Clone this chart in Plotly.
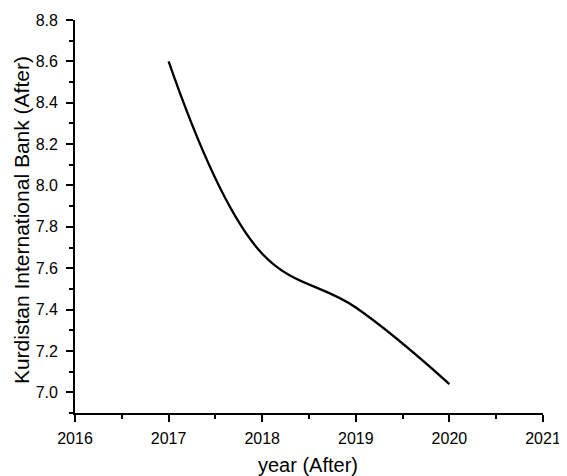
import plotly.graph_objects as go

years = [2017, 2018, 2019, 2020]
values = [8.60, 7.67, 7.41, 7.04]

x_title = "year (After)"
y_title = "Kurdistan International Bank (After)"

FONT = "Arial, Liberation Sans, sans-serif"

fig = go.Figure()
fig.add_trace(go.Scatter(
    x=years, y=values, mode="lines",
    line=dict(color="black", width=2.3, shape="spline", smoothing=1.1),
    showlegend=False,
))

axis_common = dict(
    showline=True, linecolor="black", linewidth=1.8,
    ticks="outside", ticklen=7, tickwidth=1.8, tickcolor="black",
    showgrid=False, zeroline=False, mirror=False, automargin=False,
    tickfont=dict(family=FONT, size=16, color="black"),
)

fig.update_xaxes(
    range=[2016, 2021], tick0=2016, dtick=1,
    minor=dict(ticks="outside", ticklen=4, tickwidth=1.8, tickcolor="black", dtick=0.5, tick0=2016),
    ticklabelstandoff=3,
    **axis_common,
)
fig.update_yaxes(
    range=[6.9, 8.8], tick0=7.0, dtick=0.2, tickformat=".1f",
    minor=dict(ticks="outside", ticklen=4, tickwidth=1.8, tickcolor="black", dtick=0.1, tick0=7.0),
    ticklabelstandoff=5,
    **axis_common,
)

fig.add_annotation(text=x_title, xref="paper", yref="paper", x=0.497, y=-0.132,
                   xanchor="center", yanchor="middle", showarrow=False,
                   font=dict(family=FONT, size=20, color="black"))
fig.add_annotation(text=y_title, xref="paper", yref="paper", x=-0.114, y=0.49,
                   xanchor="center", yanchor="middle", showarrow=False, textangle=-90,
                   font=dict(family=FONT, size=21, color="black"))

# page body has an 8px default margin; figure is sized/margined to compensate
fig.update_layout(
    width=559, height=468,
    margin=dict(l=67, r=24, t=12, b=63),
    paper_bgcolor="white", plot_bgcolor="white",
)

fig.write_html("out.html")
